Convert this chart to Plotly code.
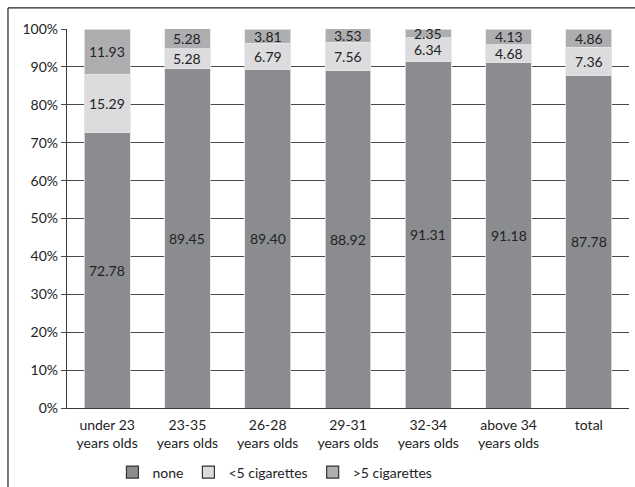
import plotly.graph_objects as go

categories = ["under 23<br>years olds", "23-35<br>years olds", "26-28<br>years olds",
              "29-31<br>years olds", "32-34<br>years olds", "above 34<br>years olds", "total"]
none_vals = [72.78, 89.45, 89.40, 88.92, 91.31, 91.18, 87.78]
lt5_vals = [15.29, 5.28, 6.79, 7.56, 6.34, 4.68, 7.36]
gt5_vals = [11.93, 5.28, 3.81, 3.53, 2.35, 4.13, 4.86]
tick_vals = [0, 10, 20, 30, 40, 50, 60, 70, 80, 90, 100]
tick_text = [f"{v}%" for v in tick_vals]

series = [
    ("none", none_vals, "#8b8c90"),
    ("<5 cigarettes", lt5_vals, "#dcdcde"),
    (">5 cigarettes", gt5_vals, "#aeaeb1"),
]

FONT = "Lato"
TXT = "#232323"
fig = go.Figure()
for name, vals, color in series:
    fig.add_trace(go.Bar(
        x=categories, y=vals, name=name, showlegend=False,
        marker=dict(color=color, line=dict(color="#e6e6e6", width=0.8)),
        width=0.57,
    ))
# legend swatches with a dark outline
for name, vals, color in series:
    fig.add_trace(go.Bar(
        x=[None], y=[None], name=name,
        marker=dict(color=color, line=dict(color="#333333", width=1.2)),
    ))

# value labels centred in each stacked segment
annotations = []
base = [0.0] * len(categories)
for name, vals, color in series:
    for i, v in enumerate(vals):
        annotations.append(dict(
            x=categories[i], y=base[i] + v / 2, text=f"{v:.2f}",
            showarrow=False, xref="x", yref="y",
            font=dict(family=FONT, size=14, color=TXT),
        ))
        base[i] += v

fig.update_layout(
    barmode="stack",
    width=635, height=487,
    margin=dict(l=67, r=6, t=29, b=79, autoexpand=False),
    paper_bgcolor="white", plot_bgcolor="white",
    font=dict(family=FONT, size=14, color=TXT),
    bargap=0.43,
    annotations=annotations,
    legend=dict(
        orientation="h", x=0.37, xanchor="center", y=-0.128, yanchor="top",
        font=dict(family=FONT, size=14, color=TXT),
        itemwidth=30, traceorder="normal", tracegroupgap=0,
    ),
    xaxis=dict(
        showline=True, linecolor="#3a3a3a", linewidth=1.3,
        ticks="", tickfont=dict(family=FONT, size=14, color=TXT),
        ticklabelstandoff=4, showgrid=False,
    ),
    yaxis=dict(
        range=[0, 100], tickvals=tick_vals, ticktext=tick_text,
        showgrid=True, gridcolor="#4a4a4a", gridwidth=1.3,
        showline=True, linecolor="#3a3a3a", linewidth=1.3,
        ticks="outside", ticklen=5, tickcolor="#4a4a4a",
        tickfont=dict(family=FONT, size=14, color=TXT), zeroline=False,
    ),
    shapes=[
        dict(type="line", xref="paper", yref="paper",
             x0=-0.105, x1=1.02, y0=1.0555, y1=1.0555,
             line=dict(color="#222", width=1.2)),
        dict(type="line", xref="paper", yref="paper",
             x0=-0.105, x1=-0.105, y0=1.0555, y1=-0.22,
             line=dict(color="#222", width=1.2)),
    ],
)

fig.write_html("out.html")
